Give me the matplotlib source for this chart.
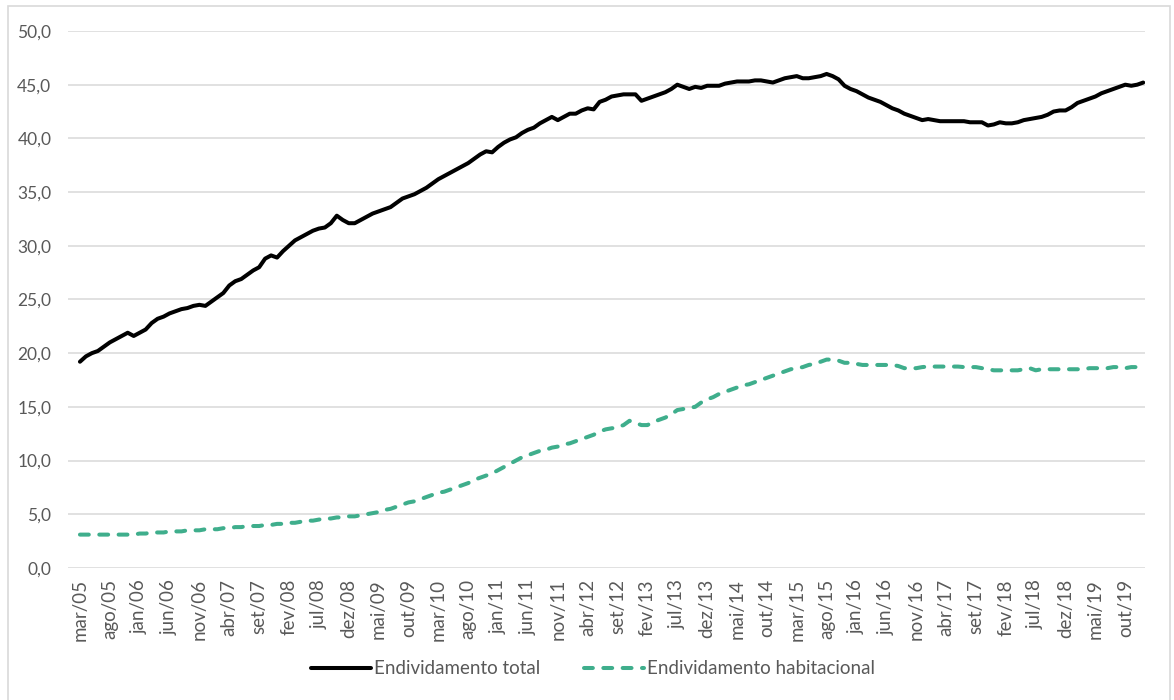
import numpy as np
import matplotlib
matplotlib.use('Agg')
import matplotlib.pyplot as plt
from matplotlib.patches import Rectangle

plt.rcParams['font.family'] = ['Lato', 'DejaVu Sans']

# monthly series, mar/05 .. jan/20
total = [19.2, 19.7, 20.0, 20.2, 20.6, 21.0, 21.3, 21.6, 21.9, 21.6,
         21.9, 22.2, 22.8, 23.2, 23.4, 23.7, 23.9, 24.1, 24.2, 24.4,
         24.5, 24.4, 24.8, 25.2, 25.6, 26.3, 26.7, 26.9, 27.3, 27.7,
         28.0, 28.8, 29.1, 28.9, 29.5, 30.0, 30.5, 30.8, 31.1, 31.4,
         31.6, 31.7, 32.1, 32.8, 32.4, 32.1, 32.1, 32.4, 32.7, 33.0,
         33.2, 33.4, 33.6, 34.0, 34.4, 34.6, 34.8, 35.1, 35.4, 35.8,
         36.2, 36.5, 36.8, 37.1, 37.4, 37.7, 38.1, 38.5, 38.8, 38.7,
         39.2, 39.6, 39.9, 40.1, 40.5, 40.8, 41.0, 41.4, 41.7, 42.0,
         41.7, 42.0, 42.3, 42.3, 42.6, 42.8, 42.7, 43.4, 43.6, 43.9,
         44.0, 44.1, 44.1, 44.1, 43.5, 43.7, 43.9, 44.1, 44.3, 44.6,
         45.0, 44.8, 44.6, 44.8, 44.7, 44.9, 44.9, 44.9, 45.1, 45.2,
         45.3, 45.3, 45.3, 45.4, 45.4, 45.3, 45.2, 45.4, 45.6, 45.7,
         45.8, 45.6, 45.6, 45.7, 45.8, 46.0, 45.8, 45.5, 44.9, 44.6,
         44.4, 44.1, 43.8, 43.6, 43.4, 43.1, 42.8, 42.6, 42.3, 42.1,
         41.9, 41.7, 41.8, 41.7, 41.6, 41.6, 41.6, 41.6, 41.6, 41.5,
         41.5, 41.5, 41.2, 41.3, 41.5, 41.4, 41.4, 41.5, 41.7, 41.8,
         41.9, 42.0, 42.2, 42.5, 42.6, 42.6, 42.9, 43.3, 43.5, 43.7,
         43.9, 44.2, 44.4, 44.6, 44.8, 45.0, 44.9, 45.0, 45.2]

habitacional = [3.1, 3.1, 3.1, 3.1, 3.1, 3.1, 3.1, 3.1, 3.1, 3.1,
                3.2, 3.2, 3.3, 3.3, 3.3, 3.4, 3.4, 3.4, 3.5, 3.5,
                3.5, 3.6, 3.6, 3.6, 3.7, 3.7, 3.8, 3.8, 3.9, 3.9,
                3.9, 4.0, 4.0, 4.1, 4.1, 4.2, 4.2, 4.3, 4.4, 4.4,
                4.5, 4.6, 4.6, 4.7, 4.7, 4.8, 4.8, 4.9, 5.0, 5.1,
                5.2, 5.4, 5.5, 5.7, 5.9, 6.1, 6.2, 6.4, 6.6, 6.8,
                7.0, 7.1, 7.3, 7.5, 7.7, 7.9, 8.2, 8.4, 8.6, 8.8,
                9.1, 9.4, 9.7, 10.0, 10.3, 10.5, 10.7, 10.9, 11.0, 11.2,
                11.3, 11.5, 11.6, 11.8, 12.0, 12.2, 12.4, 12.7, 12.9, 13.0,
                13.1, 13.3, 13.7, 13.5, 13.3, 13.3, 13.6, 13.8, 14.0, 14.3,
                14.7, 14.8, 14.9, 15.0, 15.4, 15.7, 15.9, 16.2, 16.4, 16.6,
                16.8, 17.0, 17.1, 17.3, 17.5, 17.7, 17.9, 18.1, 18.3, 18.5,
                18.6, 18.7, 18.9, 19.0, 19.2, 19.4, 19.4, 19.3, 19.1, 19.1,
                19.0, 18.9, 18.9, 18.9, 18.9, 18.9, 18.9, 18.8, 18.6, 18.6,
                18.6, 18.7, 18.75, 18.75, 18.75, 18.75, 18.75, 18.75, 18.7, 18.7,
                18.7, 18.6, 18.5, 18.4, 18.4, 18.4, 18.4, 18.4, 18.5, 18.6,
                18.4, 18.5, 18.5, 18.5, 18.5, 18.5, 18.5, 18.5, 18.5, 18.6,
                18.6, 18.6, 18.6, 18.7, 18.7, 18.6, 18.7, 18.7, 18.7]

month_names = ['jan', 'fev', 'mar', 'abr', 'mai', 'jun',
               'jul', 'ago', 'set', 'out', 'nov', 'dez']
start_year, start_month = 2005, 2   # mar/05

labels = []
for i in range(len(total)):
    m = (start_month + i) % 12
    y = start_year + (start_month + i) // 12
    labels.append('{}/{:02d}'.format(month_names[m], y % 100))

x = np.arange(len(total))

fig = plt.figure(figsize=(11.74, 7.0), dpi=100)
# chart area border (cut at the bottom like the source image)
fig.patches.append(Rectangle((8 / 1174, -0.05), 1162 / 1174, 1.05 - 6 / 700,
                             transform=fig.transFigure, fill=False,
                             edgecolor='#d9d9d9', linewidth=1.2))

ax = fig.add_axes([68 / 1174, 1 - 567.9 / 700, (1145 - 68) / 1174, (567.9 - 31) / 700])

ax.plot(x, total, color='black', linewidth=2.9, label='Endividamento total',
        solid_capstyle='round', zorder=3)
ax.plot(x, habitacional, color='#3fae8c', linewidth=2.9, dashes=(2.2, 2.6),
        dash_capstyle='round', label='Endividamento habitacional', zorder=3)

ax.set_ylim(0, 50)
ax.set_xlim(-2.0, 178.3)
ax.set_yticks(np.arange(0, 51, 5))
ax.set_yticklabels(['{:.1f}'.format(v).replace('.', ',') for v in np.arange(0, 51, 5)])
ax.set_xticks(x[::5])
ax.set_xticklabels(labels[::5], rotation=90)

ax.grid(axis='y', color='#d9d9d9', linewidth=1.1)
ax.set_axisbelow(True)
for s in ax.spines.values():
    s.set_visible(False)
ax.tick_params(axis='both', length=0, colors='#595959')
ax.tick_params(axis='y', pad=12, labelsize=12.5)
ax.tick_params(axis='x', pad=8, labelsize=13.5)

fig.legend(loc='center', bbox_to_anchor=(593 / 1174, 1 - 669 / 700), ncol=2,
           frameon=False, fontsize=13.5, handlelength=3.2, handletextpad=0.2,
           columnspacing=2.3, labelcolor='#595959')

plt.savefig('out.png', dpi=100)
